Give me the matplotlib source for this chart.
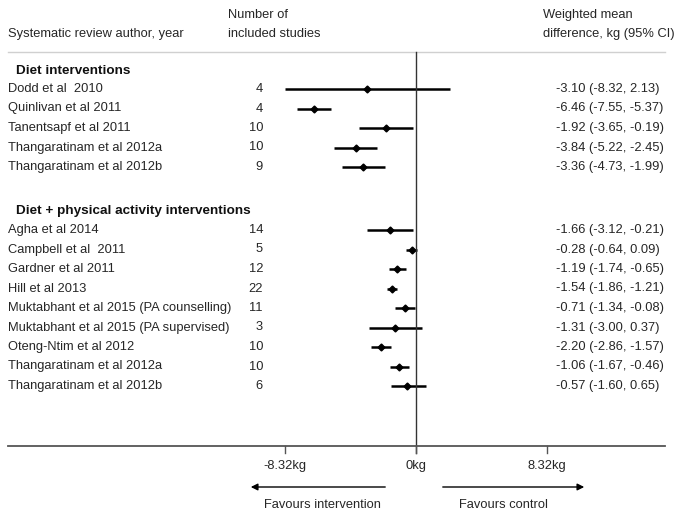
import matplotlib
matplotlib.use("Agg")
import matplotlib.pyplot as plt

plt.rcParams['font.family'] = ['Liberation Sans', 'DejaVu Sans']

diet_names = ["Dodd et al  2010", "Quinlivan et al 2011", "Tanentsapf et al 2011",
              "Thangaratinam et al 2012a", "Thangaratinam et al 2012b"]
diet_n = [4, 4, 10, 10, 9]
diet_est = [-3.10, -6.46, -1.92, -3.84, -3.36]
diet_lo = [-8.32, -7.55, -3.65, -5.22, -4.73]
diet_hi = [2.13, -5.37, -0.19, -2.45, -1.99]

pa_names = ["Agha et al 2014", "Campbell et al  2011", "Gardner et al 2011", "Hill et al 2013",
            "Muktabhant et al 2015 (PA counselling)", "Muktabhant et al 2015 (PA supervised)",
            "Oteng-Ntim et al 2012", "Thangaratinam et al 2012a", "Thangaratinam et al 2012b"]
pa_n = [14, 5, 12, 22, 11, 3, 10, 10, 6]
pa_est = [-1.66, -0.28, -1.19, -1.54, -0.71, -1.31, -2.20, -1.06, -0.57]
pa_lo = [-3.12, -0.64, -1.74, -1.86, -1.34, -3.00, -2.86, -1.67, -1.60]
pa_hi = [-0.21, 0.09, -0.65, -1.21, -0.08, 0.37, -1.57, -0.46, 0.65]

tick_vals = [-8.32, 0, 8.32]
tick_labels = ["-8.32kg", "0kg", "8.32kg"]

# pixel layout: 0 kg at x=416, 8.32 kg spans 131 px
PX0, SCALE = 416, 131 / 8.32


def px(x):
    return (x - PX0) / SCALE


fig = plt.figure(figsize=(6.78, 5.16), dpi=100)
ax = fig.add_axes([0, 0, 1, 1])
ax.set_xlim(px(0), px(678))
ax.set_ylim(516, 0)
ax.axis('off')

txt = '#262626'
fs = 9.3

# column headers
ax.text(px(8), 34, "Systematic review author, year", fontsize=fs, color=txt, va='center')
ax.text(px(228), 15, "Number of", fontsize=fs, color=txt, va='center')
ax.text(px(228), 34, "included studies", fontsize=fs, color=txt, va='center')
ax.text(px(543), 15, "Weighted mean", fontsize=fs, color=txt, va='center')
ax.text(px(543), 34, "difference, kg (95% CI)", fontsize=fs, color=txt, va='center')
ax.plot([px(8), px(665)], [52, 52], color='#d0d0d0', lw=1)

groups = [("Diet interventions", 71, 89, diet_names, diet_n, diet_est, diet_lo, diet_hi),
          ("Diet + physical activity interventions", 211, 230, pa_names, pa_n, pa_est, pa_lo, pa_hi)]
step = 19.5

for title, hy, y0, names, ns, est, lo, hi in groups:
    ax.text(px(16), hy, title, fontsize=9.7, fontweight='bold', color='#111111', va='center')
    for i, name in enumerate(names):
        y = y0 + i * step
        ax.text(px(8), y, name, fontsize=fs, color=txt, va='center')
        ax.text(px(263), y, str(ns[i]), fontsize=fs, color=txt, va='center', ha='right')
        ax.text(px(556), y, "%.2f (%.2f, %.2f)" % (est[i], lo[i], hi[i]),
                fontsize=fs, color=txt, va='center')
        ax.plot([lo[i], hi[i]], [y, y], color='black', lw=1.8, solid_capstyle='butt')
        ax.plot(est[i], y, marker='D', ms=3.5, color='black')

# zero line and x axis
ax.plot([0, 0], [52, 453], color='#333333', lw=1)
ax.plot([px(8), px(665)], [446, 446], color='#555555', lw=1.3)
for v, lab in zip(tick_vals, tick_labels):
    ax.plot([v, v], [446, 453], color='#555555', lw=1)
    ax.text(v, 466, lab, fontsize=fs, color=txt, ha='center', va='center')

# direction arrows
ax.annotate("", xy=(px(248), 487), xytext=(px(388), 487),
            arrowprops=dict(arrowstyle='-|>', color='black', lw=1, mutation_scale=10))
ax.annotate("", xy=(px(587), 487), xytext=(px(440), 487),
            arrowprops=dict(arrowstyle='-|>', color='black', lw=1, mutation_scale=10))
ax.text(px(322), 505, "Favours intervention", fontsize=fs, color=txt, ha='center', va='center')
ax.text(px(503), 505, "Favours control", fontsize=fs, color=txt, ha='center', va='center')

fig.savefig("out.png", dpi=100)
